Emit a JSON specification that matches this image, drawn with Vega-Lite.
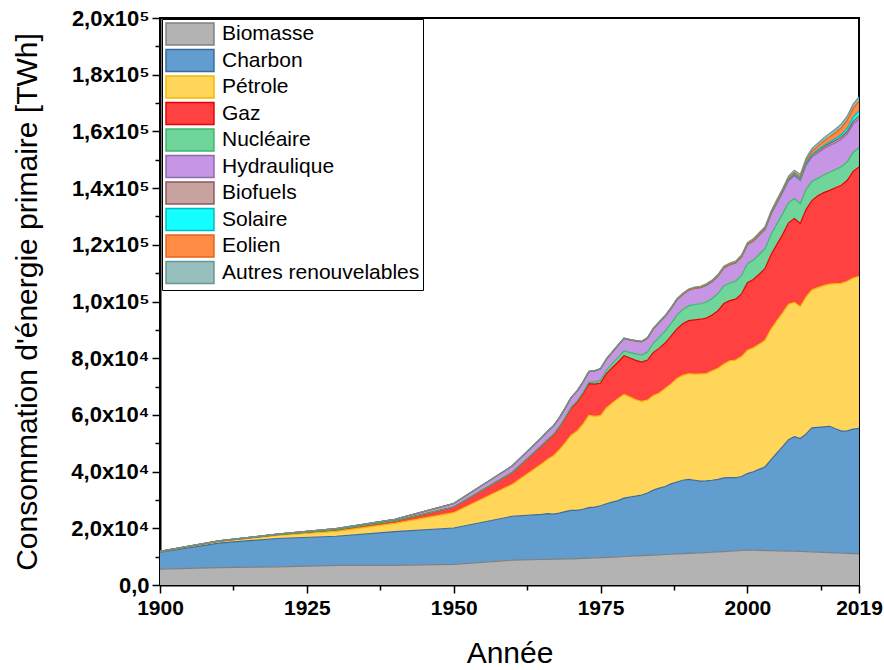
{
  "$schema": "https://vega.github.io/schema/vega-lite/v6.json",
  "autosize": "none",
  "width": 699,
  "height": 567,
  "padding": {"left": 160, "top": 18, "right": 25, "bottom": 85},
  "background": "white",
  "config": {
    "view": {"stroke": "black", "strokeWidth": 2},
    "axis": {"domainColor": "black", "domainWidth": 2, "tickColor": "black", "tickWidth": 1.5, "labelFont": "Liberation Sans", "labelFontWeight": "bold", "labelFontSize": 21, "labelColor": "black", "titleFont": "Liberation Sans", "titleFontWeight": "normal", "titleColor": "black", "grid": false, "labelOverlap": false, "labelFlush": false, "labelBound": false},
    "legend": {"orient": "none", "legendX": 2, "legendY": 1, "strokeColor": "black", "fillColor": "white", "padding": 3, "labelFont": "Liberation Sans", "labelFontSize": 21, "labelColor": "black", "labelLimit": 0, "symbolType": "M-1,-1H3.36V1H-1Z", "symbolSize": 484, "symbolStrokeWidth": 1.5, "rowPadding": -1.5, "labelOffset": 33, "symbolOffset": 0, "zindex": 1}
  },
  "data": {"values": [
{"annee":1900,"source":"Biomasse","twh":5600},{"annee":1910,"source":"Biomasse","twh":6100},{"annee":1920,"source":"Biomasse","twh":6400},{"annee":1930,"source":"Biomasse","twh":6900},{"annee":1940,"source":"Biomasse","twh":6950},{"annee":1950,"source":"Biomasse","twh":7300},{"annee":1960,"source":"Biomasse","twh":8750},
{"annee":1965,"source":"Biomasse","twh":9000},{"annee":1966,"source":"Biomasse","twh":9050},{"annee":1967,"source":"Biomasse","twh":9100},{"annee":1968,"source":"Biomasse","twh":9150},{"annee":1969,"source":"Biomasse","twh":9200},{"annee":1970,"source":"Biomasse","twh":9250},{"annee":1971,"source":"Biomasse","twh":9330},{"annee":1972,"source":"Biomasse","twh":9410},{"annee":1973,"source":"Biomasse","twh":9490},{"annee":1974,"source":"Biomasse","twh":9570},{"annee":1975,"source":"Biomasse","twh":9650},{"annee":1976,"source":"Biomasse","twh":9750},{"annee":1977,"source":"Biomasse","twh":9850},{"annee":1978,"source":"Biomasse","twh":9950},{"annee":1979,"source":"Biomasse","twh":10050},{"annee":1980,"source":"Biomasse","twh":10150},{"annee":1981,"source":"Biomasse","twh":10250},{"annee":1982,"source":"Biomasse","twh":10350},{"annee":1983,"source":"Biomasse","twh":10450},{"annee":1984,"source":"Biomasse","twh":10550},{"annee":1985,"source":"Biomasse","twh":10650},{"annee":1986,"source":"Biomasse","twh":10750},{"annee":1987,"source":"Biomasse","twh":10850},{"annee":1988,"source":"Biomasse","twh":10950},{"annee":1989,"source":"Biomasse","twh":11050},{"annee":1990,"source":"Biomasse","twh":11150},{"annee":1991,"source":"Biomasse","twh":11250},{"annee":1992,"source":"Biomasse","twh":11350},{"annee":1993,"source":"Biomasse","twh":11450},{"annee":1994,"source":"Biomasse","twh":11550},{"annee":1995,"source":"Biomasse","twh":11650},{"annee":1996,"source":"Biomasse","twh":11780},{"annee":1997,"source":"Biomasse","twh":11910},{"annee":1998,"source":"Biomasse","twh":12040},{"annee":1999,"source":"Biomasse","twh":12170},{"annee":2000,"source":"Biomasse","twh":12300},{"annee":2001,"source":"Biomasse","twh":12250},{"annee":2002,"source":"Biomasse","twh":12200},{"annee":2003,"source":"Biomasse","twh":12150},{"annee":2004,"source":"Biomasse","twh":12100},{"annee":2005,"source":"Biomasse","twh":12050},{"annee":2006,"source":"Biomasse","twh":12000},{"annee":2007,"source":"Biomasse","twh":11950},{"annee":2008,"source":"Biomasse","twh":11900},{"annee":2009,"source":"Biomasse","twh":11850},{"annee":2010,"source":"Biomasse","twh":11800},{"annee":2011,"source":"Biomasse","twh":11700},{"annee":2012,"source":"Biomasse","twh":11600},{"annee":2013,"source":"Biomasse","twh":11500},{"annee":2014,"source":"Biomasse","twh":11400},{"annee":2015,"source":"Biomasse","twh":11300},{"annee":2016,"source":"Biomasse","twh":11200},{"annee":2017,"source":"Biomasse","twh":11150},{"annee":2018,"source":"Biomasse","twh":11100},{"annee":2019,"source":"Biomasse","twh":11050},
{"annee":1900,"source":"Charbon","twh":6000},{"annee":1910,"source":"Charbon","twh":8700},{"annee":1920,"source":"Charbon","twh":10000},{"annee":1930,"source":"Charbon","twh":10300},{"annee":1940,"source":"Charbon","twh":11900},{"annee":1950,"source":"Charbon","twh":12800},{"annee":1960,"source":"Charbon","twh":15500},
{"annee":1965,"source":"Charbon","twh":15900},{"annee":1966,"source":"Charbon","twh":16100},{"annee":1967,"source":"Charbon","twh":15900},{"annee":1968,"source":"Charbon","twh":16200},{"annee":1969,"source":"Charbon","twh":16700},{"annee":1970,"source":"Charbon","twh":17100},{"annee":1971,"source":"Charbon","twh":17000},{"annee":1972,"source":"Charbon","twh":17300},{"annee":1973,"source":"Charbon","twh":17800},{"annee":1974,"source":"Charbon","twh":17900},{"annee":1975,"source":"Charbon","twh":18300},{"annee":1976,"source":"Charbon","twh":18900},{"annee":1977,"source":"Charbon","twh":19400},{"annee":1978,"source":"Charbon","twh":19800},{"annee":1979,"source":"Charbon","twh":20600},{"annee":1980,"source":"Charbon","twh":20900},{"annee":1981,"source":"Charbon","twh":21100},{"annee":1982,"source":"Charbon","twh":21400},{"annee":1983,"source":"Charbon","twh":22000},{"annee":1984,"source":"Charbon","twh":22900},{"annee":1985,"source":"Charbon","twh":23500},{"annee":1986,"source":"Charbon","twh":24000},{"annee":1987,"source":"Charbon","twh":24800},{"annee":1988,"source":"Charbon","twh":25400},{"annee":1989,"source":"Charbon","twh":25900},{"annee":1990,"source":"Charbon","twh":26100},{"annee":1991,"source":"Charbon","twh":25700},{"annee":1992,"source":"Charbon","twh":25300},{"annee":1993,"source":"Charbon","twh":25300},{"annee":1994,"source":"Charbon","twh":25400},{"annee":1995,"source":"Charbon","twh":25600},{"annee":1996,"source":"Charbon","twh":26000},{"annee":1997,"source":"Charbon","twh":26000},{"annee":1998,"source":"Charbon","twh":25800},{"annee":1999,"source":"Charbon","twh":26100},{"annee":2000,"source":"Charbon","twh":27000},{"annee":2001,"source":"Charbon","twh":27700},{"annee":2002,"source":"Charbon","twh":28600},{"annee":2003,"source":"Charbon","twh":29500},{"annee":2004,"source":"Charbon","twh":32000},{"annee":2005,"source":"Charbon","twh":34500},{"annee":2006,"source":"Charbon","twh":36800},{"annee":2007,"source":"Charbon","twh":39300},{"annee":2008,"source":"Charbon","twh":40400},{"annee":2009,"source":"Charbon","twh":39800},{"annee":2010,"source":"Charbon","twh":41500},{"annee":2011,"source":"Charbon","twh":43700},{"annee":2012,"source":"Charbon","twh":44000},{"annee":2013,"source":"Charbon","twh":44300},{"annee":2014,"source":"Charbon","twh":44600},{"annee":2015,"source":"Charbon","twh":43800},{"annee":2016,"source":"Charbon","twh":43100},{"annee":2017,"source":"Charbon","twh":43200},{"annee":2018,"source":"Charbon","twh":43900},{"annee":2019,"source":"Charbon","twh":44200},
{"annee":1900,"source":"Pétrole","twh":200},{"annee":1910,"source":"Pétrole","twh":500},{"annee":1920,"source":"Pétrole","twh":1100},{"annee":1930,"source":"Pétrole","twh":1700},{"annee":1940,"source":"Pétrole","twh":2900},{"annee":1950,"source":"Pétrole","twh":5400},{"annee":1960,"source":"Pétrole","twh":11300},
{"annee":1965,"source":"Pétrole","twh":17900},{"annee":1966,"source":"Pétrole","twh":19200},{"annee":1967,"source":"Pétrole","twh":20600},{"annee":1968,"source":"Pétrole","twh":22400},{"annee":1969,"source":"Pétrole","twh":24300},{"annee":1970,"source":"Pétrole","twh":26500},{"annee":1971,"source":"Pétrole","twh":28000},{"annee":1972,"source":"Pétrole","twh":30000},{"annee":1973,"source":"Pétrole","twh":32500},{"annee":1974,"source":"Pétrole","twh":32000},{"annee":1975,"source":"Pétrole","twh":31800},{"annee":1976,"source":"Pétrole","twh":33800},{"annee":1977,"source":"Pétrole","twh":35000},{"annee":1978,"source":"Pétrole","twh":36000},{"annee":1979,"source":"Pétrole","twh":36600},{"annee":1980,"source":"Pétrole","twh":35300},{"annee":1981,"source":"Pétrole","twh":34000},{"annee":1982,"source":"Pétrole","twh":33000},{"annee":1983,"source":"Pétrole","twh":32800},{"annee":1984,"source":"Pétrole","twh":33400},{"annee":1985,"source":"Pétrole","twh":33600},{"annee":1986,"source":"Pétrole","twh":34600},{"annee":1987,"source":"Pétrole","twh":35300},{"annee":1988,"source":"Pétrole","twh":36500},{"annee":1989,"source":"Pétrole","twh":37000},{"annee":1990,"source":"Pétrole","twh":37300},{"annee":1991,"source":"Pétrole","twh":37400},{"annee":1992,"source":"Pétrole","twh":37800},{"annee":1993,"source":"Pétrole","twh":37800},{"annee":1994,"source":"Pétrole","twh":38600},{"annee":1995,"source":"Pétrole","twh":39200},{"annee":1996,"source":"Pétrole","twh":40200},{"annee":1997,"source":"Pétrole","twh":41200},{"annee":1998,"source":"Pétrole","twh":41500},{"annee":1999,"source":"Pétrole","twh":42300},{"annee":2000,"source":"Pétrole","twh":43500},{"annee":2001,"source":"Pétrole","twh":43700},{"annee":2002,"source":"Pétrole","twh":44100},{"annee":2003,"source":"Pétrole","twh":44700},{"annee":2004,"source":"Pétrole","twh":46100},{"annee":2005,"source":"Pétrole","twh":46600},{"annee":2006,"source":"Pétrole","twh":47200},{"annee":2007,"source":"Pétrole","twh":47800},{"annee":2008,"source":"Pétrole","twh":47400},{"annee":2009,"source":"Pétrole","twh":46600},{"annee":2010,"source":"Pétrole","twh":48300},{"annee":2011,"source":"Pétrole","twh":48700},{"annee":2012,"source":"Pétrole","twh":49300},{"annee":2013,"source":"Pétrole","twh":49800},{"annee":2014,"source":"Pétrole","twh":50100},{"annee":2015,"source":"Pétrole","twh":51200},{"annee":2016,"source":"Pétrole","twh":52100},{"annee":2017,"source":"Pétrole","twh":52800},{"annee":2018,"source":"Pétrole","twh":53300},{"annee":2019,"source":"Pétrole","twh":53600},
{"annee":1900,"source":"Gaz","twh":60},{"annee":1910,"source":"Gaz","twh":160},{"annee":1920,"source":"Gaz","twh":250},{"annee":1930,"source":"Gaz","twh":630},{"annee":1940,"source":"Gaz","twh":900},{"annee":1950,"source":"Gaz","twh":2000},{"annee":1960,"source":"Gaz","twh":4200},
{"annee":1965,"source":"Gaz","twh":6400},{"annee":1966,"source":"Gaz","twh":6900},{"annee":1967,"source":"Gaz","twh":7400},{"annee":1968,"source":"Gaz","twh":8000},{"annee":1969,"source":"Gaz","twh":8800},{"annee":1970,"source":"Gaz","twh":9600},{"annee":1971,"source":"Gaz","twh":10200},{"annee":1972,"source":"Gaz","twh":10700},{"annee":1973,"source":"Gaz","twh":11200},{"annee":1974,"source":"Gaz","twh":11400},{"annee":1975,"source":"Gaz","twh":11500},{"annee":1976,"source":"Gaz","twh":12100},{"annee":1977,"source":"Gaz","twh":12400},{"annee":1978,"source":"Gaz","twh":12900},{"annee":1979,"source":"Gaz","twh":13600},{"annee":1980,"source":"Gaz","twh":13700},{"annee":1981,"source":"Gaz","twh":13900},{"annee":1982,"source":"Gaz","twh":13900},{"annee":1983,"source":"Gaz","twh":14100},{"annee":1984,"source":"Gaz","twh":15200},{"annee":1985,"source":"Gaz","twh":15800},{"annee":1986,"source":"Gaz","twh":16000},{"annee":1987,"source":"Gaz","twh":16800},{"annee":1988,"source":"Gaz","twh":17500},{"annee":1989,"source":"Gaz","twh":18200},{"annee":1990,"source":"Gaz","twh":18700},{"annee":1991,"source":"Gaz","twh":19200},{"annee":1992,"source":"Gaz","twh":19300},{"annee":1993,"source":"Gaz","twh":19600},{"annee":1994,"source":"Gaz","twh":19700},{"annee":1995,"source":"Gaz","twh":20300},{"annee":1996,"source":"Gaz","twh":21300},{"annee":1997,"source":"Gaz","twh":21200},{"annee":1998,"source":"Gaz","twh":21500},{"annee":1999,"source":"Gaz","twh":22100},{"annee":2000,"source":"Gaz","twh":23800},{"annee":2001,"source":"Gaz","twh":24100},{"annee":2002,"source":"Gaz","twh":24700},{"annee":2003,"source":"Gaz","twh":25300},{"annee":2004,"source":"Gaz","twh":26200},{"annee":2005,"source":"Gaz","twh":26900},{"annee":2006,"source":"Gaz","twh":27600},{"annee":2007,"source":"Gaz","twh":28700},{"annee":2008,"source":"Gaz","twh":29600},{"annee":2009,"source":"Gaz","twh":29300},{"annee":2010,"source":"Gaz","twh":30900},{"annee":2011,"source":"Gaz","twh":31600},{"annee":2012,"source":"Gaz","twh":32400},{"annee":2013,"source":"Gaz","twh":32800},{"annee":2014,"source":"Gaz","twh":33100},{"annee":2015,"source":"Gaz","twh":33800},{"annee":2016,"source":"Gaz","twh":34600},{"annee":2017,"source":"Gaz","twh":35600},{"annee":2018,"source":"Gaz","twh":37600},{"annee":2019,"source":"Gaz","twh":38600},
{"annee":1965,"source":"Nucléaire","twh":70},{"annee":1966,"source":"Nucléaire","twh":90},{"annee":1967,"source":"Nucléaire","twh":110},{"annee":1968,"source":"Nucléaire","twh":140},{"annee":1969,"source":"Nucléaire","twh":170},{"annee":1970,"source":"Nucléaire","twh":220},{"annee":1971,"source":"Nucléaire","twh":300},{"annee":1972,"source":"Nucléaire","twh":420},{"annee":1973,"source":"Nucléaire","twh":560},{"annee":1974,"source":"Nucléaire","twh":720},{"annee":1975,"source":"Nucléaire","twh":1000},{"annee":1976,"source":"Nucléaire","twh":1150},{"annee":1977,"source":"Nucléaire","twh":1400},{"annee":1978,"source":"Nucléaire","twh":1650},{"annee":1979,"source":"Nucléaire","twh":1700},{"annee":1980,"source":"Nucléaire","twh":1900},{"annee":1981,"source":"Nucléaire","twh":2250},{"annee":1982,"source":"Nucléaire","twh":2450},{"annee":1983,"source":"Nucléaire","twh":2800},{"annee":1984,"source":"Nucléaire","twh":3300},{"annee":1985,"source":"Nucléaire","twh":3900},{"annee":1986,"source":"Nucléaire","twh":4200},{"annee":1987,"source":"Nucléaire","twh":4500},{"annee":1988,"source":"Nucléaire","twh":4850},{"annee":1989,"source":"Nucléaire","twh":5000},{"annee":1990,"source":"Nucléaire","twh":5200},{"annee":1991,"source":"Nucléaire","twh":5400},{"annee":1992,"source":"Nucléaire","twh":5450},{"annee":1993,"source":"Nucléaire","twh":5650},{"annee":1994,"source":"Nucléaire","twh":5800},{"annee":1995,"source":"Nucléaire","twh":6000},{"annee":1996,"source":"Nucléaire","twh":6200},{"annee":1997,"source":"Nucléaire","twh":6200},{"annee":1998,"source":"Nucléaire","twh":6300},{"annee":1999,"source":"Nucléaire","twh":6500},{"annee":2000,"source":"Nucléaire","twh":6700},{"annee":2001,"source":"Nucléaire","twh":6900},{"annee":2002,"source":"Nucléaire","twh":7000},{"annee":2003,"source":"Nucléaire","twh":6900},{"annee":2004,"source":"Nucléaire","twh":7150},{"annee":2005,"source":"Nucléaire","twh":7200},{"annee":2006,"source":"Nucléaire","twh":7300},{"annee":2007,"source":"Nucléaire","twh":7100},{"annee":2008,"source":"Nucléaire","twh":7050},{"annee":2009,"source":"Nucléaire","twh":6950},{"annee":2010,"source":"Nucléaire","twh":7050},{"annee":2011,"source":"Nucléaire","twh":6700},{"annee":2012,"source":"Nucléaire","twh":6200},{"annee":2013,"source":"Nucléaire","twh":6250},{"annee":2014,"source":"Nucléaire","twh":6400},{"annee":2015,"source":"Nucléaire","twh":6450},{"annee":2016,"source":"Nucléaire","twh":6500},{"annee":2017,"source":"Nucléaire","twh":6550},{"annee":2018,"source":"Nucléaire","twh":6650},{"annee":2019,"source":"Nucléaire","twh":6850},
{"annee":1900,"source":"Hydraulique","twh":50},{"annee":1910,"source":"Hydraulique","twh":100},{"annee":1920,"source":"Hydraulique","twh":200},{"annee":1930,"source":"Hydraulique","twh":350},{"annee":1940,"source":"Hydraulique","twh":550},{"annee":1950,"source":"Hydraulique","twh":1250},{"annee":1960,"source":"Hydraulique","twh":2300},
{"annee":1965,"source":"Hydraulique","twh":2800},{"annee":1966,"source":"Hydraulique","twh":2950},{"annee":1967,"source":"Hydraulique","twh":3000},{"annee":1968,"source":"Hydraulique","twh":3150},{"annee":1969,"source":"Hydraulique","twh":3300},{"annee":1970,"source":"Hydraulique","twh":3450},{"annee":1971,"source":"Hydraulique","twh":3550},{"annee":1972,"source":"Hydraulique","twh":3650},{"annee":1973,"source":"Hydraulique","twh":3700},{"annee":1974,"source":"Hydraulique","twh":3950},{"annee":1975,"source":"Hydraulique","twh":4000},{"annee":1976,"source":"Hydraulique","twh":4000},{"annee":1977,"source":"Hydraulique","twh":4100},{"annee":1978,"source":"Hydraulique","twh":4300},{"annee":1979,"source":"Hydraulique","twh":4450},{"annee":1980,"source":"Hydraulique","twh":4500},{"annee":1981,"source":"Hydraulique","twh":4550},{"annee":1982,"source":"Hydraulique","twh":4700},{"annee":1983,"source":"Hydraulique","twh":4900},{"annee":1984,"source":"Hydraulique","twh":5050},{"annee":1985,"source":"Hydraulique","twh":5150},{"annee":1986,"source":"Hydraulique","twh":5200},{"annee":1987,"source":"Hydraulique","twh":5250},{"annee":1988,"source":"Hydraulique","twh":5400},{"annee":1989,"source":"Hydraulique","twh":5350},{"annee":1990,"source":"Hydraulique","twh":5500},{"annee":1991,"source":"Hydraulique","twh":5650},{"annee":1992,"source":"Hydraulique","twh":5650},{"annee":1993,"source":"Hydraulique","twh":5900},{"annee":1994,"source":"Hydraulique","twh":5950},{"annee":1995,"source":"Hydraulique","twh":6250},{"annee":1996,"source":"Hydraulique","twh":6350},{"annee":1997,"source":"Hydraulique","twh":6450},{"annee":1998,"source":"Hydraulique","twh":6450},{"annee":1999,"source":"Hydraulique","twh":6500},{"annee":2000,"source":"Hydraulique","twh":6700},{"annee":2001,"source":"Hydraulique","twh":6650},{"annee":2002,"source":"Hydraulique","twh":6750},{"annee":2003,"source":"Hydraulique","twh":6850},{"annee":2004,"source":"Hydraulique","twh":7150},{"annee":2005,"source":"Hydraulique","twh":7400},{"annee":2006,"source":"Hydraulique","twh":7600},{"annee":2007,"source":"Hydraulique","twh":7750},{"annee":2008,"source":"Hydraulique","twh":8050},{"annee":2009,"source":"Hydraulique","twh":8150},{"annee":2010,"source":"Hydraulique","twh":8550},{"annee":2011,"source":"Hydraulique","twh":8700},{"annee":2012,"source":"Hydraulique","twh":9000},{"annee":2013,"source":"Hydraulique","twh":9250},{"annee":2014,"source":"Hydraulique","twh":9400},{"annee":2015,"source":"Hydraulique","twh":9450},{"annee":2016,"source":"Hydraulique","twh":9700},{"annee":2017,"source":"Hydraulique","twh":9800},{"annee":2018,"source":"Hydraulique","twh":10000},{"annee":2019,"source":"Hydraulique","twh":10050},
{"annee":1980,"source":"Biofuels","twh":20},{"annee":1981,"source":"Biofuels","twh":25},{"annee":1982,"source":"Biofuels","twh":30},{"annee":1983,"source":"Biofuels","twh":40},{"annee":1984,"source":"Biofuels","twh":50},{"annee":1985,"source":"Biofuels","twh":55},{"annee":1986,"source":"Biofuels","twh":55},{"annee":1987,"source":"Biofuels","twh":60},{"annee":1988,"source":"Biofuels","twh":60},{"annee":1989,"source":"Biofuels","twh":65},{"annee":1990,"source":"Biofuels","twh":70},{"annee":1991,"source":"Biofuels","twh":75},{"annee":1992,"source":"Biofuels","twh":75},{"annee":1993,"source":"Biofuels","twh":80},{"annee":1994,"source":"Biofuels","twh":80},{"annee":1995,"source":"Biofuels","twh":85},{"annee":1996,"source":"Biofuels","twh":90},{"annee":1997,"source":"Biofuels","twh":95},{"annee":1998,"source":"Biofuels","twh":100},{"annee":1999,"source":"Biofuels","twh":105},{"annee":2000,"source":"Biofuels","twh":110},{"annee":2001,"source":"Biofuels","twh":120},{"annee":2002,"source":"Biofuels","twh":140},{"annee":2003,"source":"Biofuels","twh":160},{"annee":2004,"source":"Biofuels","twh":180},{"annee":2005,"source":"Biofuels","twh":220},{"annee":2006,"source":"Biofuels","twh":280},{"annee":2007,"source":"Biofuels","twh":370},{"annee":2008,"source":"Biofuels","twh":480},{"annee":2009,"source":"Biofuels","twh":550},{"annee":2010,"source":"Biofuels","twh":630},{"annee":2011,"source":"Biofuels","twh":640},{"annee":2012,"source":"Biofuels","twh":650},{"annee":2013,"source":"Biofuels","twh":700},{"annee":2014,"source":"Biofuels","twh":770},{"annee":2015,"source":"Biofuels","twh":800},{"annee":2016,"source":"Biofuels","twh":830},{"annee":2017,"source":"Biofuels","twh":880},{"annee":2018,"source":"Biofuels","twh":970},{"annee":2019,"source":"Biofuels","twh":1050},
{"annee":2000,"source":"Solaire","twh":3},{"annee":2001,"source":"Solaire","twh":4},{"annee":2002,"source":"Solaire","twh":5},{"annee":2003,"source":"Solaire","twh":7},{"annee":2004,"source":"Solaire","twh":8},{"annee":2005,"source":"Solaire","twh":10},{"annee":2006,"source":"Solaire","twh":15},{"annee":2007,"source":"Solaire","twh":20},{"annee":2008,"source":"Solaire","twh":35},{"annee":2009,"source":"Solaire","twh":55},{"annee":2010,"source":"Solaire","twh":90},{"annee":2011,"source":"Solaire","twh":170},{"annee":2012,"source":"Solaire","twh":260},{"annee":2013,"source":"Solaire","twh":360},{"annee":2014,"source":"Solaire","twh":500},{"annee":2015,"source":"Solaire","twh":650},{"annee":2016,"source":"Solaire","twh":860},{"annee":2017,"source":"Solaire","twh":1160},{"annee":2018,"source":"Solaire","twh":1500},{"annee":2019,"source":"Solaire","twh":1790},
{"annee":1990,"source":"Eolien","twh":10},{"annee":1991,"source":"Eolien","twh":12},{"annee":1992,"source":"Eolien","twh":14},{"annee":1993,"source":"Eolien","twh":17},{"annee":1994,"source":"Eolien","twh":20},{"annee":1995,"source":"Eolien","twh":24},{"annee":1996,"source":"Eolien","twh":30},{"annee":1997,"source":"Eolien","twh":38},{"annee":1998,"source":"Eolien","twh":50},{"annee":1999,"source":"Eolien","twh":65},{"annee":2000,"source":"Eolien","twh":85},{"annee":2001,"source":"Eolien","twh":100},{"annee":2002,"source":"Eolien","twh":140},{"annee":2003,"source":"Eolien","twh":170},{"annee":2004,"source":"Eolien","twh":220},{"annee":2005,"source":"Eolien","twh":270},{"annee":2006,"source":"Eolien","twh":340},{"annee":2007,"source":"Eolien","twh":440},{"annee":2008,"source":"Eolien","twh":570},{"annee":2009,"source":"Eolien","twh":710},{"annee":2010,"source":"Eolien","twh":880},{"annee":2011,"source":"Eolien","twh":1100},{"annee":2012,"source":"Eolien","twh":1300},{"annee":2013,"source":"Eolien","twh":1600},{"annee":2014,"source":"Eolien","twh":1800},{"annee":2015,"source":"Eolien","twh":2100},{"annee":2016,"source":"Eolien","twh":2400},{"annee":2017,"source":"Eolien","twh":2800},{"annee":2018,"source":"Eolien","twh":3100},{"annee":2019,"source":"Eolien","twh":3400},
{"annee":1965,"source":"Autres renouvelables","twh":50},{"annee":1966,"source":"Autres renouvelables","twh":55},{"annee":1967,"source":"Autres renouvelables","twh":58},{"annee":1968,"source":"Autres renouvelables","twh":62},{"annee":1969,"source":"Autres renouvelables","twh":66},{"annee":1970,"source":"Autres renouvelables","twh":70},{"annee":1971,"source":"Autres renouvelables","twh":78},{"annee":1972,"source":"Autres renouvelables","twh":86},{"annee":1973,"source":"Autres renouvelables","twh":95},{"annee":1974,"source":"Autres renouvelables","twh":105},{"annee":1975,"source":"Autres renouvelables","twh":115},{"annee":1976,"source":"Autres renouvelables","twh":125},{"annee":1977,"source":"Autres renouvelables","twh":135},{"annee":1978,"source":"Autres renouvelables","twh":150},{"annee":1979,"source":"Autres renouvelables","twh":165},{"annee":1980,"source":"Autres renouvelables","twh":180},{"annee":1981,"source":"Autres renouvelables","twh":200},{"annee":1982,"source":"Autres renouvelables","twh":220},{"annee":1983,"source":"Autres renouvelables","twh":245},{"annee":1984,"source":"Autres renouvelables","twh":275},{"annee":1985,"source":"Autres renouvelables","twh":300},{"annee":1986,"source":"Autres renouvelables","twh":320},{"annee":1987,"source":"Autres renouvelables","twh":340},{"annee":1988,"source":"Autres renouvelables","twh":360},{"annee":1989,"source":"Autres renouvelables","twh":380},{"annee":1990,"source":"Autres renouvelables","twh":400},{"annee":1991,"source":"Autres renouvelables","twh":420},{"annee":1992,"source":"Autres renouvelables","twh":430},{"annee":1993,"source":"Autres renouvelables","twh":440},{"annee":1994,"source":"Autres renouvelables","twh":450},{"annee":1995,"source":"Autres renouvelables","twh":470},{"annee":1996,"source":"Autres renouvelables","twh":490},{"annee":1997,"source":"Autres renouvelables","twh":510},{"annee":1998,"source":"Autres renouvelables","twh":530},{"annee":1999,"source":"Autres renouvelables","twh":550},{"annee":2000,"source":"Autres renouvelables","twh":570},{"annee":2001,"source":"Autres renouvelables","twh":580},{"annee":2002,"source":"Autres renouvelables","twh":610},{"annee":2003,"source":"Autres renouvelables","twh":640},{"annee":2004,"source":"Autres renouvelables","twh":680},{"annee":2005,"source":"Autres renouvelables","twh":710},{"annee":2006,"source":"Autres renouvelables","twh":750},{"annee":2007,"source":"Autres renouvelables","twh":790},{"annee":2008,"source":"Autres renouvelables","twh":830},{"annee":2009,"source":"Autres renouvelables","twh":870},{"annee":2010,"source":"Autres renouvelables","twh":950},{"annee":2011,"source":"Autres renouvelables","twh":1020},{"annee":2012,"source":"Autres renouvelables","twh":1090},{"annee":2013,"source":"Autres renouvelables","twh":1160},{"annee":2014,"source":"Autres renouvelables","twh":1240},{"annee":2015,"source":"Autres renouvelables","twh":1310},{"annee":2016,"source":"Autres renouvelables","twh":1380},{"annee":2017,"source":"Autres renouvelables","twh":1450},{"annee":2018,"source":"Autres renouvelables","twh":1530},{"annee":2019,"source":"Autres renouvelables","twh":1600}
  ]},
  "transform": [
    {"lookup": "source", "from": {"data": {"values": [
      {"source": "Biomasse", "rang": 1}, {"source": "Charbon", "rang": 2}, {"source": "Pétrole", "rang": 3}, {"source": "Gaz", "rang": 4}, {"source": "Nucléaire", "rang": 5}, {"source": "Hydraulique", "rang": 6}, {"source": "Biofuels", "rang": 7}, {"source": "Solaire", "rang": 8}, {"source": "Eolien", "rang": 9}, {"source": "Autres renouvelables", "rang": 10}
    ]}, "key": "source", "fields": ["rang"]}}
  ],
  "encoding": {
    "x": {"field": "annee", "type": "quantitative",
      "scale": {"domain": [1900, 2019], "nice": false, "zero": false},
      "axis": {"title": "Année", "titleFontSize": 30, "titleX": 349.5, "titleY": 77, "titleBaseline": "alphabetic", "titleAnchor": null,
        "values": [1900, 1912.5, 1925, 1937.5, 1950, 1962.5, 1975, 1987.5, 2000, 2012.5, 2019],
        "labelExpr": "datum.value % 1 != 0 ? '' : '' + datum.value",
        "tickSize": {"condition": {"test": "datum.value % 1 != 0", "value": 5}, "value": 8},
        "labelPadding": 4}},
    "y": {"field": "twh", "type": "quantitative", "stack": "zero",
      "scale": {"domain": [0, 200000], "nice": false},
      "axis": {"title": "Consommation d'énergie primaire [TWh]", "titleFontSize": 30, "titleAngle": -90, "titleX": -124, "titleY": 283.5, "titleAlign": "center", "titleBaseline": "alphabetic", "titleAnchor": null,
        "values": [0, 10000, 20000, 30000, 40000, 50000, 60000, 70000, 80000, 90000, 100000, 110000, 120000, 130000, 140000, 150000, 160000, 170000, 180000, 190000, 200000],
        "labelExpr": "datum.value % 20000 != 0 ? '' : datum.value == 0 ? '0,0' : replace(format(datum.value / (datum.value >= 100000 ? 100000 : 10000), '.1f'), '.', ',') + 'x10' + (datum.value >= 100000 ? '⁵' : '⁴')",
        "labelFontSize": 22,
        "tickSize": {"condition": {"test": "datum.value % 20000 != 0", "value": 5}, "value": 8},
        "labelPadding": 3}},
    "order": {"field": "rang", "type": "quantitative"}
  },
  "layer": [
    {"mark": {"type": "area", "interpolate": "linear", "fillOpacity": 1},
     "encoding": {
       "color": {"field": "source", "type": "nominal",
         "scale": {"domain": ["Biomasse", "Charbon", "Pétrole", "Gaz", "Nucléaire", "Hydraulique", "Biofuels", "Solaire", "Eolien", "Autres renouvelables"],
                   "range": ["#B3B3B3", "#629DD0", "#FFD55A", "#FF4141", "#70D59B", "#C695E4", "#C9A2A2", "#14FFFF", "#FF8B44", "#96BFBE"]},
         "legend": {"title": null}}}},
    {"mark": {"type": "line", "interpolate": "linear", "strokeWidth": 1.2},
     "encoding": {
       "stroke": {"field": "source", "type": "nominal",
         "scale": {"domain": ["Biomasse", "Charbon", "Pétrole", "Gaz", "Nucléaire", "Hydraulique", "Biofuels", "Solaire", "Eolien", "Autres renouvelables"],
                   "range": ["#808080", "#3A6B9D", "#F5B800", "#E60000", "#3DB86A", "#8E69AE", "#8C5A5A", "#00BDBD", "#E0661A", "#6A9594"]},
         "legend": {"title": null}}}}
  ]
}
